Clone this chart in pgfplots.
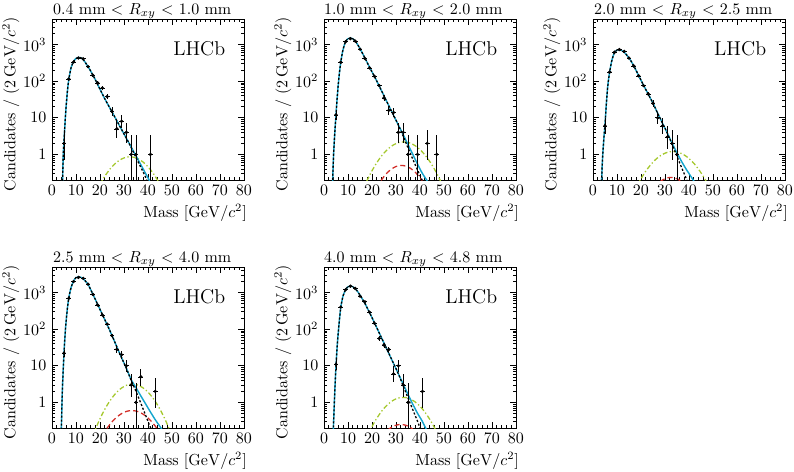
\documentclass[border=0pt]{standalone}
\usepackage{pgfplots}
\usepackage{pgfplotstable}
\pgfplotsset{compat=1.18}
\definecolor{fitcyan}{RGB}{20,165,205}
\definecolor{siggreen}{RGB}{165,200,45}
\definecolor{bkgred}{RGB}{210,45,40}

\pgfplotstableread{
x y ep em
5 2 2.638 1.292
7 115 10.7 10.7
9 335 18.3 18.3
11 430 20.7 20.7
13 410 20.2 20.2
15 250 15.8 15.8
17 145 12.0 12.0
19 90 9.5 9.5
21 65 8.1 8.1
23 38 6.2 6.2
25 15 4.959 3.829
27 5 3.382 2.160
29 8 3.945 2.768
31 4 3.163 1.914
33 1 2.300 0.827
35 1 2.300 0.827
41 1 2.300 0.827
}\pone
\pgfplotstableread{
x y ep em
5 12 4.560 3.415
7 330 18.2 18.2
9 1200 34.6 34.6
11 1450 38.1 38.1
13 1250 35.4 35.4
15 750 27.4 27.4
17 420 20.5 20.5
19 230 15.2 15.2
21 137 11.7 11.7
23 76 8.7 8.7
25 35 5.9 5.9
27 16 5.083 3.957
29 14 4.830 3.697
31 4 3.163 1.914
33 4 3.163 1.914
35 1 2.300 0.827
39 1 2.300 0.827
43 2 2.638 1.292
47 1 2.300 0.827
}\ptwo
\pgfplotstableread{
x y ep em
5 6 3.584 2.380
7 180 13.4 13.4
9 620 24.9 24.9
11 730 27.0 27.0
13 650 25.5 25.5
15 430 20.7 20.7
17 260 16.1 16.1
19 140 11.8 11.8
21 76 8.7 8.7
23 45 6.7 6.7
25 25 5.0 5.0
27 10 4.266 3.108
29 6 3.584 2.380
31 3 2.918 1.633
33 2 2.638 1.292
35 1 2.300 0.827
}\pthree
\pgfplotstableread{
x y ep em
5 22 4.7 4.7
7 700 26.5 26.5
9 2000 44.7 44.7
11 2600 51.0 51.0
13 2450 49.5 49.5
15 1700 41.2 41.2
17 900 30.0 30.0
19 460 21.4 21.4
21 245 15.7 15.7
23 138 11.7 11.7
25 67 8.2 8.2
27 28 5.3 5.3
29 20 5.546 4.434
31 10 4.266 3.108
33 3 2.918 1.633
35 1 2.300 0.827
37 5 3.382 2.160
43 2 2.638 1.292
}\pfour
\pgfplotstableread{
x y ep em
5 11 4.417 3.265
7 400 20.0 20.0
9 1200 34.6 34.6
11 1500 38.7 38.7
13 1300 36.0 36.0
15 800 28.3 28.3
17 560 23.7 23.7
19 290 17.0 17.0
21 145 12.0 12.0
23 56 7.5 7.5
25 37 6.1 6.1
27 28 5.3 5.3
29 6 3.584 2.380
31 10 4.266 3.108
33 3 2.918 1.633
35 1 2.300 0.827
41 2 2.638 1.292
}\pfive

\pgfplotsset{
  every axis/.append style={
    width=120pt, height=100.625pt, scale only axis,
    xmin=0, xmax=80, ymin=0.2, ymax=5000,
    xtick={0,10,...,80}, minor x tick num=4,
    ytick={1,10,100,1000}, yticklabels={$1$,$10$,$10^{2}$,$10^{3}$},
    minor ytick={0.2,0.3,0.4,0.5,0.6,0.7,0.8,0.9,2,3,4,5,6,7,8,9,20,30,40,50,60,70,80,90,200,300,400,500,600,700,800,900,2000,3000,4000,5000},
    major tick length=3.5pt, minor tick length=1.8pt,
    tick style={black, line width=0.4pt},
    axis line style={line width=0.55pt},
    xlabel={Mass $[\mathrm{GeV}/c^{2}]$},
    ylabel={Candidates / $(2\,\mathrm{GeV}/c^{2})$},
    xlabel style={at={(axis description cs:1,0)}, anchor=north east, inner sep=0pt, xshift=2pt, yshift=-15pt},
    ylabel style={at={(axis description cs:0,1)}, anchor=north east, inner sep=0pt, xshift=1.25pt, yshift=31.25pt},
    title style={anchor=base, inner sep=0pt, yshift=-3.2pt},
    clip=true,
  },
}
\newcommand{\lhcblabel}{\node[anchor=west, inner sep=0pt, font=\fontsize{12.5}{14}\selectfont] at (axis description cs:0.63,0.815) {LHCb};}
\newcommand{\dataopts}{black, only marks, mark=*, mark size=0.8pt, line width=0.45pt,
  error bars/x dir=both, error bars/x fixed=1, error bars/y dir=both, error bars/y explicit, error bars/error mark=none}

\begin{document}
\begin{tikzpicture}
\useasboundingbox (0,0) rectangle (496.25pt,294.375pt);

% Panel 1
\begin{axis}[ymode=log, anchor=north west, at={(32.5pt,282.5pt)},
  title={0.4 mm $<$ $R_{xy}$ $<$ 1.0 mm}, title style={at={(axis description cs:0.47,1)}}]
\addplot[siggreen, line width=0.8pt, dash pattern=on 3pt off 1.5pt on 0.8pt off 1.5pt, smooth] coordinates {(20,0.152)(22,0.253)(24,0.386)(26,0.538)(28,0.687)(30,0.802)(32,0.858)(34,0.839)(36,0.751)(38,0.615)(40,0.46)(42,0.316)(44,0.198)(46,0.114)};
\addplot[fitcyan, line width=0.9pt, smooth] coordinates {(4.4,0.19)(4.7,1.0)(5,2.24)(5.5,8.9)(6,25.1)(6.5,60.3)(7,112)(7.5,170)(8,240)(9,347)(10,417)(11,447)(12,437)(13,389)(14,316)(15,251)(16,195)(17,148)(18,112)(20,60.3)(22,33.1)(24,19.1)(26,11.0)(28,6.31)(30,3.63)(32,2.09)(34,1.20)(36,0.692)(38,0.398)(40,0.229)(41,0.174)};
\addplot[black, line width=0.8pt, dash pattern=on 1.3pt off 1.2pt, smooth] coordinates {(4.4,0.19)(4.7,1.0)(5,2.24)(5.5,8.9)(6,25.1)(6.5,60.3)(7,112)(7.5,170)(8,240)(9,347)(10,417)(11,447)(12,437)(13,389)(14,316)(15,251)(16,195)(17,148)(18,112)(20,60.3)(22,33.1)(24,19.1)(26,11.0)(28,6.31)(30,3.63)(32,2.09)(34,1.12)(36,0.603)(38,0.331)(39.5,0.2)(40,0.166)};
\expandafter\addplot\expandafter[\dataopts] table[x=x, y=y, y error plus=ep, y error minus=em] {\pone};
\lhcblabel
\end{axis}

% Panel 2
\begin{axis}[ymode=log, anchor=north west, at={(202.5pt,282.5pt)},
  title={1.0 mm $<$ $R_{xy}$ $<$ 2.0 mm}, title style={at={(axis description cs:0.465,1)}}]
\addplot[siggreen, line width=0.8pt, dash pattern=on 3pt off 1.5pt on 0.8pt off 1.5pt, smooth] coordinates {(16,0.1)(18,0.197)(20,0.357)(22,0.594)(24,0.91)(26,1.28)(28,1.66)(30,1.975)(32,2.166)(34,2.18)(36,2.026)(38,1.728)(40,1.357)(42,0.98)(44,0.651)(46,0.398)(48,0.224)(50,0.116)};
\addplot[bkgred, line width=0.8pt, dash pattern=on 3.2pt off 2pt, smooth] coordinates {(22,0.125)(24,0.203)(26,0.298)(28,0.393)(30,0.467)(32,0.499)(34,0.481)(36,0.418)(38,0.327)(40,0.231)(42,0.146)};
\addplot[fitcyan, line width=0.9pt, smooth] coordinates {(3.5,0.158)(3.6,0.2)(4,1.0)(4.5,3.98)(5,12.0)(5.5,35.5)(6,89.1)(6.5,186)(7,331)(7.5,525)(8,759)(9,1202)(10,1445)(11,1514)(12,1445)(13,1259)(14,1000)(15,776)(17,437)(19,240)(21,135)(23,74.1)(25,39.8)(27,21.4)(29,11.7)(31,6.31)(33,3.47)(35,1.86)(37,1.0)(39,0.537)(41,0.302)(43,0.19)(44,0.151)};
\addplot[black, line width=0.8pt, dash pattern=on 1.3pt off 1.2pt, smooth] coordinates {(3.5,0.158)(3.6,0.2)(4,1.0)(4.5,3.98)(5,12.0)(5.5,35.5)(6,89.1)(6.5,186)(7,331)(7.5,525)(8,759)(9,1202)(10,1445)(11,1514)(12,1445)(13,1259)(14,1000)(15,776)(17,437)(19,240)(21,135)(23,74.1)(25,39.8)(27,21.4)(29,11.7)(31,6.31)(33,3.16)(35,1.51)(37,0.741)(39,0.372)(41,0.191)(42,0.141)};
\expandafter\addplot\expandafter[\dataopts] table[x=x, y=y, y error plus=ep, y error minus=em] {\ptwo};
\lhcblabel
\end{axis}

% Panel 3
\begin{axis}[ymode=log, anchor=north west, at={(370.6pt,282.5pt)},
  title={2.0 mm $<$ $R_{xy}$ $<$ 2.5 mm}, title style={at={(axis description cs:0.47,1)}}]
\addplot[siggreen, line width=0.8pt, dash pattern=on 3pt off 1.5pt on 0.8pt off 1.5pt, smooth] coordinates {(18,0.123)(20,0.215)(22,0.347)(24,0.518)(26,0.715)(28,0.913)(30,1.079)(32,1.18)(34,1.194)(36,1.117)(38,0.968)(40,0.775)(42,0.575)(44,0.394)(46,0.25)(48,0.147)};
\addplot[bkgred, line width=0.8pt, dash pattern=on 3.2pt off 2pt, smooth] coordinates {(28,0.18)(29,0.2)(30,0.2166)(31,0.228)(32,0.235)(33,0.235)(34,0.228)(35,0.2166)(36,0.2)(37,0.18)};
\addplot[fitcyan, line width=0.9pt, smooth] coordinates {(3.4,0.141)(3.6,0.2)(4,0.794)(4.5,2.51)(5,6.31)(5.5,20)(6,56.2)(6.5,112)(7,186)(7.5,282)(8,398)(9,617)(10,708)(11,724)(12,692)(13,617)(14,525)(15,437)(17,263)(19,145)(21,79.4)(23,44.7)(25,25.1)(27,13.2)(29,7.08)(31,3.80)(33,2.0)(35,1.10)(37,0.631)(39,0.38)(41,0.24)(42,0.19)(43,0.151)};
\addplot[black, line width=0.8pt, dash pattern=on 1.3pt off 1.2pt, smooth] coordinates {(3.4,0.141)(3.6,0.2)(4,0.794)(4.5,2.51)(5,6.31)(5.5,20)(6,56.2)(6.5,112)(7,186)(7.5,282)(8,398)(9,617)(10,708)(11,724)(12,692)(13,617)(14,525)(15,437)(17,263)(19,145)(21,79.4)(23,44.7)(25,25.1)(27,13.2)(29,7.08)(31,3.80)(33,1.86)(35,0.891)(37,0.427)(39,0.209)(40,0.148)};
\expandafter\addplot\expandafter[\dataopts] table[x=x, y=y, y error plus=ep, y error minus=em] {\pthree};
\lhcblabel
\end{axis}

% Panel 4
\begin{axis}[ymode=log, anchor=north west, at={(32.5pt,127.5pt)},
  title={2.5 mm $<$ $R_{xy}$ $<$ 4.0 mm}, title style={at={(axis description cs:0.47,1)}}]
\addplot[siggreen, line width=0.8pt, dash pattern=on 3pt off 1.5pt on 0.8pt off 1.5pt, smooth] coordinates {(17,0.121)(19,0.255)(21,0.487)(23,0.845)(25,1.331)(27,1.907)(29,2.48)(31,2.935)(33,3.15)(35,3.078)(37,2.73)(39,2.2)(41,1.613)(43,1.073)(45,0.649)(47,0.357)(49,0.178)(51,0.081)};
\addplot[bkgred, line width=0.8pt, dash pattern=on 3.2pt off 2pt, smooth] coordinates {(21,0.125)(23,0.2)(25,0.294)(27,0.398)(29,0.495)(31,0.568)(33,0.599)(35,0.582)(37,0.52)(39,0.428)(41,0.324)(43,0.226)(45,0.145)};
\addplot[fitcyan, line width=0.9pt, smooth] coordinates {(3.7,0.141)(3.9,0.2)(4.3,2.0)(5,22.4)(5.5,79.4)(6,200)(6.5,417)(7,708)(7.5,1047)(8,1413)(9,2089)(10,2570)(11,2692)(12,2630)(13,2399)(14,2042)(15,1698)(17,912)(19,479)(21,251)(23,132)(25,67.6)(27,33.1)(29,16.6)(31,8.51)(33,4.17)(35,2.51)(37,1.51)(39,0.912)(41,0.55)(43,0.339)(45,0.219)(46,0.174)};
\addplot[black, line width=0.8pt, dash pattern=on 1.3pt off 1.2pt, smooth] coordinates {(3.7,0.141)(3.9,0.2)(4.3,2.0)(5,22.4)(5.5,79.4)(6,200)(6.5,417)(7,708)(7.5,1047)(8,1413)(9,2089)(10,2570)(11,2692)(12,2630)(13,2399)(14,2042)(15,1698)(17,912)(19,479)(21,251)(23,132)(25,67.6)(27,33.1)(29,16.6)(31,8.51)(33,3.98)(35,2.0)(37,0.955)(39,0.447)(41,0.209)(42,0.158)};
\expandafter\addplot\expandafter[\dataopts] table[x=x, y=y, y error plus=ep, y error minus=em] {\pfour};
\lhcblabel
\end{axis}

% Panel 5
\begin{axis}[ymode=log, anchor=north west, at={(202.5pt,127.5pt)},
  title={4.0 mm $<$ $R_{xy}$ $<$ 4.8 mm}, title style={at={(axis description cs:0.465,1)}}]
\addplot[siggreen, line width=0.8pt, dash pattern=on 3pt off 1.5pt on 0.8pt off 1.5pt, smooth] coordinates {(18,0.118)(20,0.218)(22,0.369)(24,0.571)(26,0.81)(28,1.051)(30,1.249)(32,1.359)(34,1.353)(36,1.233)(38,1.028)(40,0.785)(42,0.549)(44,0.351)(46,0.206)(48,0.11)};
\addplot[bkgred, line width=0.8pt, dash pattern=on 3.2pt off 2pt, smooth] coordinates {(26.5,0.174)(27.5,0.196)(28.5,0.216)(29.5,0.232)(30.5,0.243)(31.5,0.249)(32.5,0.249)(33.5,0.243)(34.5,0.232)(35.5,0.216)(36.5,0.196)(37.5,0.174)};
\addplot[fitcyan, line width=0.9pt, smooth] coordinates {(3.7,0.126)(3.9,0.2)(4.5,2.0)(5,10)(5.5,35.5)(6,89.1)(6.5,200)(7,398)(7.5,603)(8,832)(9,1202)(10,1445)(11,1514)(12,1445)(13,1288)(14,1072)(15,851)(17,513)(19,282)(21,151)(23,79.4)(25,41.7)(27,21.9)(29,11.5)(31,6.03)(33,3.16)(35,1.66)(37,0.891)(39,0.501)(41,0.302)(42.5,0.19)(43.5,0.141)};
\addplot[black, line width=0.8pt, dash pattern=on 1.3pt off 1.2pt, smooth] coordinates {(3.7,0.126)(3.9,0.2)(4.5,2.0)(5,10)(5.5,35.5)(6,89.1)(6.5,200)(7,398)(7.5,603)(8,832)(9,1202)(10,1445)(11,1514)(12,1445)(13,1288)(14,1072)(15,851)(17,513)(19,282)(21,151)(23,79.4)(25,41.7)(27,21.9)(29,11.5)(31,6.03)(33,2.82)(35,1.32)(37,0.631)(39,0.302)(40,0.2)(41,0.138)};
\expandafter\addplot\expandafter[\dataopts] table[x=x, y=y, y error plus=ep, y error minus=em] {\pfive};
\lhcblabel
\end{axis}
\end{tikzpicture}
\end{document}
